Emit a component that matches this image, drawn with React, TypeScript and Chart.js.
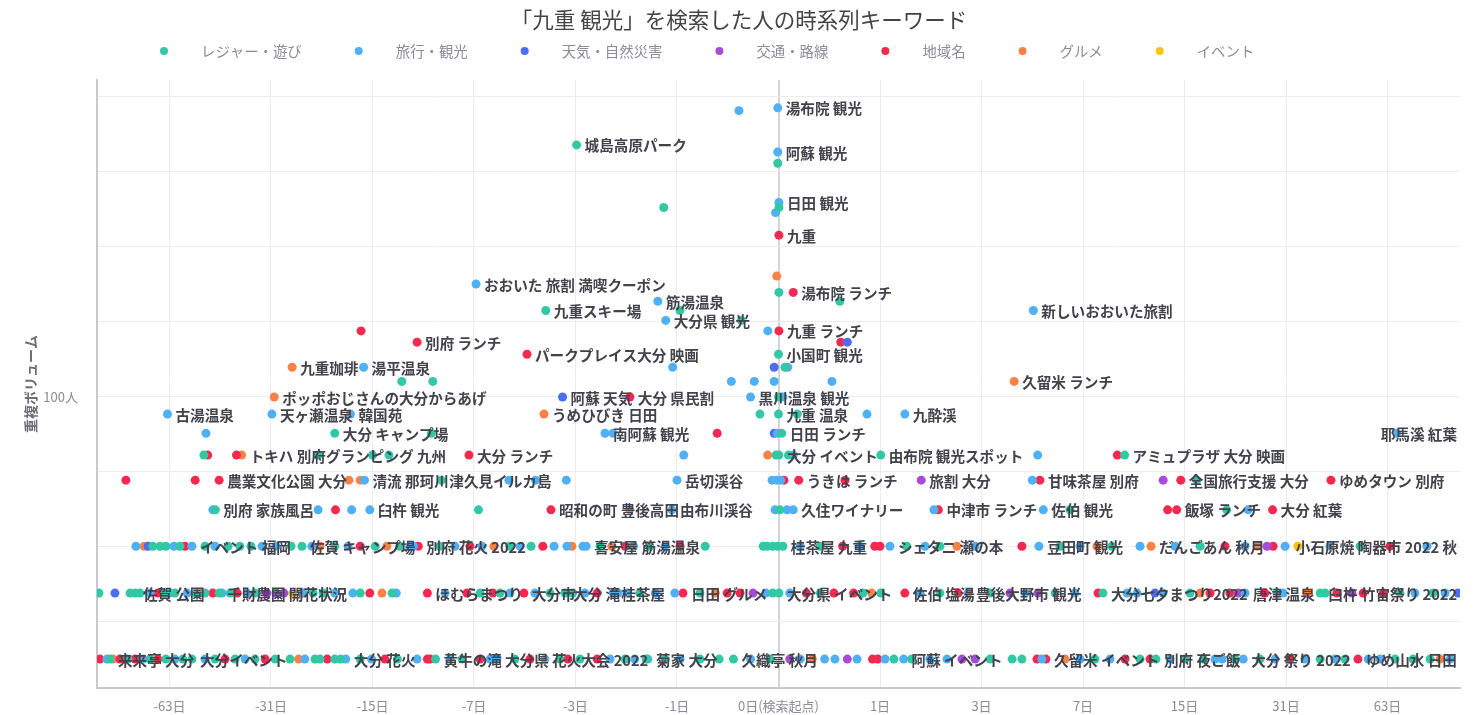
import React, { useEffect, useRef } from "react";
import { Chart, registerables, Scale } from "chart.js";

Chart.register(...registerables);

type Pt = [number, number, string?];

const FONT = "'Noto Sans CJK JP', 'Noto Sans', sans-serif";

const TITLE = "「九重 観光」を検索した人の時系列キーワード";
const Y_TITLE = "重複ボリューム";

const categories = ["レジャー・遊び", "旅行・観光", "天気・自然災害", "交通・路線", "地域名", "グルメ", "イベント"];
const colors = ["#33c8a4", "#50b0f5", "#4b6ef0", "#aa4bd7", "#f52850", "#fa8246", "#f9c514"];

const tickDays = [-63, -31, -15, -7, -3, -1, 0, 1, 3, 7, 15, 31, 63];
const tickLabels = ["-63日", "-31日", "-15日", "-7日", "-3日", "-1日", "0日(検索起点)", "1日", "3日", "7日", "15日", "31日", "63日"];
const yGridExponents = [1.4, 1.6, 1.8, 2.0, 2.2, 2.4, 2.6, 2.8];
const yLabelValue = 100;
const yLabelText = "100人";

// [days from search, volume, keyword label]
const leisure: Pt[] = [
  [-2.97, 470, "城島高原パーク"], [-0.005, 420], [-1.19, 320], [0.003, 320], [0.003, 190], [0.52, 180],
  [-3.9, 170, "九重スキー場"], [-0.96, 170], [-0.29, 160], [0, 130, "小国町 観光"], [0.045, 120],
  [-12.1, 110], [-9.6, 110], [0, 100], [-0.135, 90], [0, 90, "九重 温泉"], [0.137, 90],
  [-19.7, 80, "大分 キャンプ場"], [-9.7, 80], [0.022, 80, "日田 ランチ"],
  [-49.6, 70], [-22.2, 70, "グランピング 九州"], [-15, 70], [-13.3, 70], [-0.017, 70], [0.003, 70, "大分 イベント"], [0.07, 70], [1.01, 70, "由布院 観光スポット"], [9.63, 70, "アミュプラザ 大分 映画"],
  [-9.0, 60, "津久見イルカ島"], [16.4, 60],
  [-45.8, 50, "別府 家族風呂"], [-6.76, 50], [0.01, 50], [6.32, 50], [20.35, 50],
  [-70.7, 40], [-67.3, 40], [-64.6, 40], [-58.6, 40], [-49.2, 40], [-41.9, 40], [-38.6, 40], [-35.7, 40], [-26.9, 40], [-24.9, 40, "佐賀 キャンプ場"], [-19.7, 40], [-14.7, 40], [-12.3, 40], [-9.1, 40], [-5.26, 40], [-4.42, 40], [-2.38, 40], [-1.41, 40], [-0.65, 40], [-0.11, 40], [-0.08, 40], [-0.04, 40], [-0.004, 40], [0.03, 40, "桂茶屋 九重"], [0.33, 40], [1.4, 40], [2.01, 40], [5.84, 40], [8.75, 40], [16.8, 40], [52.1, 40],
  [-102.6, 30], [-82.8, 30], [-80, 30, "佐賀 公園"], [-77.3, 30], [-65, 30], [-60.7, 30], [-52.4, 30], [-49.2, 30], [-44.6, 30, "千財農園 開花状況"], [-41.3, 30], [-34.7, 30], [-23.0, 30], [-21.4, 30], [-16.4, 30], [-13.0, 30], [-6.68, 30], [-5.7, 30], [-3.76, 30], [-3.3, 30, "大分 滝"], [-3.08, 30], [-1.58, 30], [-0.71, 30], [-0.04, 30], [0.003, 30, "大分県 イベント"], [0.33, 30], [0.78, 30], [1.01, 30], [2.01, 30], [3.24, 30], [5.61, 30], [8.17, 30, "大分七夕まつり2022"], [15.6, 30], [29.1, 30], [39.4, 30], [40.8, 30, "臼杵 竹宙祭り 2022"], [68.7, 30], [86.3, 30],
  [-95.1, 20, "来来亭 大分"], [-84, 20], [-72.1, 20], [-64.6, 20], [-57.4, 20], [-53.9, 20, "大分イベント"], [-45.9, 20], [-39.9, 20], [-34.7, 20], [-30.1, 20], [-27.1, 20], [-22.7, 20], [-21.9, 20], [-19.7, 20], [-18.9, 20], [-16.4, 20], [-12.5, 20], [-9.4, 20, "黄牛の滝"], [-7.68, 20], [-5.05, 20], [-3.45, 20], [-2.88, 20], [-1.85, 20], [-1.47, 20], [-1.17, 20], [-0.71, 20], [-0.5, 20], [-0.36, 20, "久織亭 秋月"], [-0.06, 20], [1.2, 20], [1.48, 20], [3.24, 20], [3.93, 20], [4.27, 20], [7.68, 20], [10.81, 20], [12.17, 20, "別府 夜ご飯"], [15.06, 20], [17.2, 20], [21.6, 20], [25.8, 20], [39.4, 20], [46.9, 20], [66.4, 20], [75.2, 20], [84.6, 20],
];

const travel: Pt[] = [
  [-0.31, 580], [-0.005, 590, "湯布院 観光"], [-0.005, 450, "阿蘇 観光"], [0.003, 330, "日田 観光"], [-0.02, 310],
  [-6.89, 200, "おおいた 旅割 満喫クーポン"], [-1.28, 180, "筋湯温泉"], [-1.16, 160, "大分県 観光"], [-0.076, 150], [0.065, 120], [-1.06, 120],
  [-0.38, 110], [-0.18, 110], [-0.03, 110], [0.44, 110], [4.7, 170, "新しいおおいた旅割"], [-16, 120, "湯平温泉"],
  [-0.21, 100, "黒川温泉 観光"], [0.03, 100], [-63.9, 90, "古湯温泉"], [-30.8, 90, "天ヶ瀬温泉"], [-17.6, 90, "韓国苑"], [0.83, 90], [1.37, 90, "九酔渓"],
  [-48.9, 80], [-2.27, 80, "南阿蘇 観光"], [-2.1, 80], [-0.008, 80], [67.1, 80, "耶馬溪 紅葉"],
  [-0.91, 70], [0.106, 70], [4.87, 70],
  [-15.9, 60, "清流 那珂川"], [-5.3, 60], [-4.25, 60], [-3.26, 60], [-1.0, 60, "岳切渓谷"], [-0.045, 60], [-0.012, 60], [0.015, 60], [4.66, 60],
  [-46.6, 50], [-22.2, 50], [-17.45, 50], [-15.3, 50, "臼杵 観光"], [-1.76, 50], [-1.07, 50, "由布川渓谷"], [-0.024, 50], [0.06, 50], [0.106, 50, "久住ワイナリー"], [1.89, 50], [5.1, 50, "佐伯 観光"], [23.7, 50],
  [-79.5, 40], [-61.1, 40], [-53.9, 40, "イベント 福岡"], [-45.9, 40], [-33.0, 40], [-29.9, 40], [-23.2, 40], [-17.9, 40], [-11.4, 40], [-11.1, 40], [-8.11, 40], [-6.58, 40], [-4.84, 40], [-3.63, 40], [-3.24, 40], [-2.8, 40], [-2.72, 40, "喜安屋"], [-1.69, 40, "筋湯温泉"], [-1.17, 40], [0.16, 40], [0.74, 40], [1.14, 40, "シェタニ 瀬の本"], [1.72, 40], [2.83, 40], [4.92, 40, "豆田町 観光"], [6.84, 40], [10.81, 40], [14.0, 40], [23.2, 40], [30.8, 40], [42.2, 40], [82.8, 40],
  [-72.1, 30], [-62.8, 30], [-55.8, 30], [-43.7, 30], [-36.7, 30], [-24.7, 30], [-19.7, 30], [-17.3, 30], [-12.6, 30], [-8.75, 30], [-5.26, 30], [-4.28, 30], [-2.75, 30], [-2.09, 30, "桂茶屋"], [-1.99, 30], [-1.81, 30], [-1.32, 30], [-1.03, 30], [-0.09, 30], [0.08, 30], [1.63, 30], [2.65, 30, "豊後大野市 観光"], [4.39, 30], [6.57, 30], [9.81, 30], [10.57, 30], [12.82, 30], [23.2, 30, "唐津 温泉"], [30.4, 30], [76.2, 30], [93.8, 30],
  [-97.1, 20], [-75.7, 20], [-60.7, 20], [-49.2, 20], [-37.2, 20], [-24.4, 20], [-18.2, 20, "大分 花火"], [-15.1, 20], [-10.8, 20], [-8.42, 20], [-6.17, 20], [-5.84, 20, "大分県 花火大会 2022"], [-3.93, 20], [-2.16, 20], [-1.67, 20], [-1.44, 20, "菊家 大分"], [-0.96, 20], [-0.21, 20], [0.16, 20], [0.37, 20], [0.47, 20], [0.71, 20], [1.07, 20], [1.35, 20, "阿蘇 イベント"], [1.81, 20], [2.16, 20], [5.04, 20], [6.84, 20], [8.62, 20], [13.5, 20], [18.7, 20], [19.7, 20], [22.9, 20, "大分 祭り 2022"], [28.7, 20], [35.4, 20], [43.7, 20], [55.1, 20], [59.8, 20], [97.1, 20],
];

const weather: Pt[] = [
  [0.6, 140], [-0.03, 120], [-3.37, 100, "阿蘇 天気"], [-0.03, 80], [-73.1, 40], [-91.9, 30], [12.08, 30], [102.6, 30],
];

const transport: Pt[] = [
  [1.65, 60, "旅割 大分"], [12.83, 60], [27.1, 40], [-31.9, 30], [-29.9, 30], [-28.3, 30], [-0.19, 30], [3.86, 30], [4.88, 30], [22.1, 30], [49.2, 30], [0.08, 20], [0.6, 20], [2.5, 20], [2.83, 20],
];

const area: Pt[] = [
  [0.003, 270, "九重"], [0.106, 190, "湯布院 ランチ"], [0.003, 150, "九重 ランチ"], [0.53, 140], [-16.3, 150], [-10.8, 140, "別府 ランチ"], [-4.57, 130, "パークプレイス大分 映画"], [-1.76, 100, "大分 県民割"], [-0.52, 80],
  [-48.3, 70], [-39.5, 70], [-7.28, 70, "大分 ランチ"], [9.11, 70],
  [-85.2, 60], [-52.7, 60], [-44.6, 60, "農業文化公園 大分"], [0.038, 60], [0.148, 60, "うきは ランチ"], [0.575, 60], [4.96, 60, "甘味茶屋 別府"], [14.6, 60, "全国旅行支援 大分"], [42.5, 60, "ゆめタウン 別府"],
  [-19.6, 50], [-3.73, 50, "昭和の町 豊後高田"], [1.98, 50, "中津市 ランチ"], [13.26, 50], [14.17, 50, "飯塚 ランチ"], [28.2, 50, "大分 紅葉"],
  [-56.6, 40], [-16.4, 40], [-10.7, 40, "別府 花火 2022"], [-7.22, 40], [-4.0, 40], [-1.85, 40], [-0.96, 40], [0.55, 40], [0.93, 40], [1.0, 40], [4.27, 40], [20.1, 40], [28.3, 40], [64.1, 40],
  [-68.3, 30], [-46.6, 30], [-39.3, 30], [-24.9, 30], [-15.3, 30], [-10.0, 30, "ほむらまつり"], [-7.4, 30], [-6.03, 30], [-4.69, 30, "大分市"], [-2.45, 30], [-0.92, 30, "日田 グルメ"], [-0.42, 30], [-0.3, 30], [0.21, 30], [0.46, 30], [0.67, 30], [1.37, 30, "佐伯 塩湯"], [2.41, 30], [7.86, 30], [18.05, 30], [20.8, 30], [26.7, 30], [44.3, 30], [53.2, 30], [61.1, 30],
  [-101.9, 20], [-88.8, 20], [-80, 20], [-68.3, 20], [-42.8, 20], [-32.3, 20], [-20.8, 20], [-13.7, 20], [-10.0, 20], [-9.8, 20], [-6.68, 20], [-4.46, 20], [-3.21, 20], [-2.45, 20], [0.9, 20], [0.97, 20], [4.84, 20], [5.21, 20, "久留米 イベント"], [9.66, 20], [11.64, 20], [31.9, 20], [51.3, 20, "ゆめ山水 日田"],
];

const gourmet: Pt[] = [
  [-0.012, 210], [4.0, 110, "久留米 ランチ"], [-26.7, 120, "九重珈琲"], [-30.3, 100, "ポッポおじさんの大分からあげ"], [-3.96, 90, "うめひびき 日田"],
  [-38.1, 70, "トキハ 別府"], [-0.077, 70],
  [-17.8, 60], [-16.4, 60],
  [-75.1, 40], [-21.9, 40], [-13.5, 40], [-5.98, 40], [-3.1, 40], [-2.12, 40], [2.38, 40], [7.8, 40], [11.73, 40, "だんごあん 秋月"], [25.3, 40],
  [-51, 30], [-14.0, 30], [-0.54, 30], [0.89, 30], [16.8, 30], [35.9, 30],
  [-93.2, 20], [-25.5, 20], [0.26, 20], [6.08, 20], [90.6, 20],
];

const events: Pt[] = [[33.7, 40, "小石原焼 陶器市 2022 秋"], [-26.6, 30]];

const seriesPoints: Pt[][] = [leisure, travel, weather, transport, area, gourmet, events];

// symmetric log2 transform for the day axis
const tf = (d: number) => Math.sign(d) * Math.log2(Math.abs(d) + 1);
const itf = (p: number) => Math.sign(p) * (Math.pow(2, Math.abs(p)) - 1);

class SymLogScale extends (Scale as any) {
  static id = "symlog";
  static defaults = {};
  determineDataLimits() {
    this.min = this.options.min;
    this.max = this.options.max;
  }
  buildTicks() {
    return tickDays.map((value) => ({ value }));
  }
  getLabelForValue(value: number) {
    return String(value);
  }
  getPixelForValue(value: number) {
    const a = tf(this.min);
    const b = tf(this.max);
    return this.getPixelForDecimal((tf(value) - a) / (b - a));
  }
  getPixelForTick(index: number) {
    const t = this.ticks[index];
    return t ? this.getPixelForValue(t.value) : NaN;
  }
  getValueForPixel(pixel: number) {
    const a = tf(this.min);
    const b = tf(this.max);
    return itf(a + this.getDecimalForPixel(pixel) * (b - a));
  }
}
Chart.register(SymLogScale as any);

const labelPlugin = {
  id: "pointLabels",
  afterDatasetsDraw(chart: any) {
    const ctx = chart.ctx;
    const areaBox = chart.chartArea;
    ctx.save();
    ctx.font = `bold 14.6px ${FONT}`;
    ctx.fillStyle = "#42424c";
    ctx.textBaseline = "middle";
    ctx.textAlign = "left";
    chart.data.datasets.forEach((ds: any, i: number) => {
      const meta = chart.getDatasetMeta(i);
      ds.data.forEach((pt: any, j: number) => {
        if (!pt.kw) return;
        const el = meta.data[j];
        if (!el) return;
        const w = ctx.measureText(pt.kw).width;
        let x = el.x + 8;
        if (x + w > areaBox.right - 3) x = areaBox.right - 3 - w;
        ctx.fillText(pt.kw, x, el.y + 1);
      });
    });
    ctx.restore();
  },
};

const legendPlugin = {
  id: "dotLegend",
  afterDraw(chart: any) {
    const ctx = chart.ctx;
    ctx.save();
    ctx.font = `14.4px ${FONT}`;
    ctx.textBaseline = "middle";
    ctx.textAlign = "left";
    let x = 164;
    const y = 51;
    categories.forEach((name, i) => {
      ctx.fillStyle = colors[i];
      ctx.beginPath();
      ctx.arc(x, y, 4, 0, Math.PI * 2);
      ctx.fill();
      ctx.fillStyle = "#8a8c99";
      ctx.fillText(name, x + 37, y + 1);
      x += 37 + ctx.measureText(name).width + 57;
    });
    ctx.restore();
  },
};

export default function App() {
  const ref = useRef<HTMLCanvasElement | null>(null);

  useEffect(() => {
    if (!ref.current) return;
    Chart.defaults.font.family = FONT;
    const datasets = seriesPoints.map((pts, i) => ({
      label: categories[i],
      data: pts.map(([d, v, kw]) => ({ x: d, y: v, kw })),
      backgroundColor: colors[i],
      borderWidth: 0,
      pointRadius: 4.5,
      pointHoverRadius: 4.5,
    }));
    const chart = new Chart(ref.current, {
      type: "scatter",
      data: { datasets },
      plugins: [labelPlugin, legendPlugin],
      options: {
        animation: false,
        responsive: false,
        devicePixelRatio: 1,
        events: [],
        layout: { padding: { left: 18, right: 14, top: 0, bottom: 0 } },
        plugins: {
          legend: { display: false },
          tooltip: { enabled: false },
          title: {
            display: true,
            text: TITLE,
            color: "#444",
            font: { size: 21.5, weight: "normal", family: FONT, lineHeight: 1.2 },
            padding: { top: 7, bottom: 47.2 },
          },
        },
        scales: {
          x: {
            type: "symlog" as any,
            position: "bottom",
            min: -104,
            max: 104,
            afterFit: (s: any) => {
              s.height = 27;
            },
            grid: {
              drawTicks: false,
              color: (c: any) => (c.tick && c.tick.value === 0 ? "#d3d3db" : "#ececec"),
              lineWidth: (c: any) => (c.tick && c.tick.value === 0 ? 2 : 1),
            },
            border: { display: true, color: "#c8c8d2", width: 2 },
            ticks: {
              autoSkip: false,
              maxRotation: 0,
              padding: 10,
              color: "#8b8b96",
              font: { size: 13 },
              callback: (_v: any, i: number) => tickLabels[i],
            },
          } as any,
          y: {
            type: "logarithmic",
            min: 16.75,
            max: 700,
            bounds: "data",
            afterFit: (s: any) => {
              s.width = 79;
            },
            afterBuildTicks: (s: any) => {
              s.ticks = yGridExponents.map((e) => ({ value: Math.pow(10, e) }));
            },
            grid: { drawTicks: false, color: "#ececec", lineWidth: 1 },
            border: { display: true, color: "#c8c8d2", width: 2 },
            title: {
              display: true,
              text: Y_TITLE,
              color: "#6e6e78",
              font: { size: 14, weight: "bold", family: FONT },
              padding: { top: 4, bottom: 0 },
            },
            ticks: {
              autoSkip: false,
              padding: 19,
              color: "#8b8b96",
              font: { size: 13 },
              callback: (v: any) => (Math.abs(Number(v) - yLabelValue) < 0.5 ? yLabelText : ""),
            },
          } as any,
        },
      },
    } as any);
    return () => chart.destroy();
  }, []);

  return (
    <div style={{ position: "fixed", left: 0, top: 0, width: 1474, height: 715, background: "#fff" }}>
      <canvas ref={ref} width={1474} height={715} style={{ display: "block", width: 1474, height: 715 }} />
    </div>
  );
}
